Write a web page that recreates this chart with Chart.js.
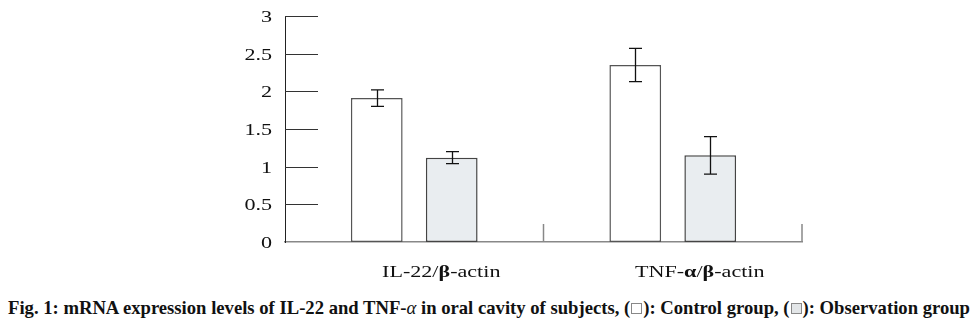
<!DOCTYPE html>
<html>
<head>
<meta charset="utf-8">
<script src="https://cdn.jsdelivr.net/npm/chart.js@4/dist/chart.umd.min.js"></script>
<style>
html, body { margin: 0; padding: 0; background: #fff; }
#wrap { position: relative; width: 978px; height: 290px; }
#caption { position: absolute; left: 8px; top: 297px; font: bold 18.65px "Liberation Serif", "Times New Roman", serif; white-space: nowrap; color: #111; }
.box { display: inline-block; width: 9px; height: 9px; border: 1px solid #888; vertical-align: middle; margin: 0 1px; position: relative; top: -1px; }
</style>
</head>
<body>
<div id="wrap"><canvas id="chart" width="978" height="290"></canvas></div>
<div id="caption">Fig. 1: mRNA expression levels of IL-22 and TNF-<i style="font-weight:normal">α</i> in oral cavity of subjects, (<span class="box"></span>): Control group, (<span class="box" style="background:#e3e6e8"></span>): Observation group</div>
<script>
// Data
const categories = ['IL-22/β-actin', 'TNF-α/β-actin'];
const controlValues = [1.91, 2.35];
const controlErrors = [0.11, 0.22];
const observationValues = [1.12, 1.15];
const observationErrors = [0.08, 0.25];
const yTicks = [0, 0.5, 1, 1.5, 2, 2.5, 3];

const serif = '"Liberation Serif", "Times New Roman", serif';
const stretch = 1.3; // the original figure's text is widened

// draw text pieces widened horizontally, align 'center' or 'right'
function drawWide(ctx, parts, x, y, align) {
    let total = 0;
    parts.forEach(p => { ctx.font = p.font; total += ctx.measureText(p.text).width; });
    ctx.save();
    ctx.translate(x, y);
    ctx.scale(stretch, 1);
    let px = align === 'right' ? -total : -total / 2;
    parts.forEach(p => {
        ctx.font = p.font;
        ctx.fillText(p.text, px, 0);
        px += ctx.measureText(p.text).width;
    });
    ctx.restore();
}

// Short tick marks, category separators, error bars and the text
const decorations = {
    id: 'decorations',
    afterDatasetsDraw(chart) {
        const ctx = chart.ctx;
        const x = chart.scales.x;
        const y = chart.scales.y;
        const area = chart.chartArea;
        ctx.save();

        // y tick marks going right from the axis
        ctx.strokeStyle = '#333';
        ctx.lineWidth = 1.2;
        yTicks.forEach(v => {
            if (v === 0) return;
            const py = Math.round(y.getPixelForValue(v)) + 0.5;
            ctx.beginPath();
            ctx.moveTo(area.left, py);
            ctx.lineTo(area.left + 33, py);
            ctx.stroke();
        });

        // separators between categories
        ctx.strokeStyle = '#888';
        ctx.lineWidth = 1.5;
        categories.forEach((c, i) => {
            const px = i < categories.length - 1
                ? (x.getPixelForValue(i) + x.getPixelForValue(i + 1)) / 2
                : area.right;
            ctx.beginPath();
            ctx.moveTo(px, area.bottom);
            ctx.lineTo(px, area.bottom - 18);
            ctx.stroke();
        });

        // error bars
        const errors = [controlErrors, observationErrors];
        ctx.strokeStyle = '#111';
        ctx.lineWidth = 1.3;
        chart.data.datasets.forEach((ds, di) => {
            chart.getDatasetMeta(di).data.forEach((bar, i) => {
                const v = ds.data[i];
                const top = y.getPixelForValue(v + errors[di][i]);
                const bot = y.getPixelForValue(v - errors[di][i]);
                const bx = Math.round(bar.x) + 0.5;
                ctx.beginPath();
                ctx.moveTo(bx, top);
                ctx.lineTo(bx, bot);
                ctx.moveTo(bx - 6.5, top);
                ctx.lineTo(bx + 6.5, top);
                ctx.moveTo(bx - 6.5, bot);
                ctx.lineTo(bx + 6.5, bot);
                ctx.stroke();
            });
        });

        ctx.fillStyle = '#111';
        ctx.textBaseline = 'alphabetic';

        // y tick labels
        yTicks.forEach(v => {
            drawWide(ctx, [{ text: String(v), font: '17px ' + serif }],
                area.left - 13, y.getPixelForValue(v) + 6, 'right');
        });

        // category labels, greek letters in bold
        categories.forEach((label, i) => {
            const parts = label.split(/([αβ])/).filter(s => s.length).map(s => ({
                text: s,
                font: (/[αβ]/.test(s) ? 'bold ' : '') + '17px ' + serif
            }));
            drawWide(ctx, parts, x.getPixelForValue(i) + 27, area.bottom + 35, 'center');
        });
        ctx.restore();
    }
};

new Chart(document.getElementById('chart'), {
    type: 'bar',
    data: {
        labels: categories,
        datasets: [{
            label: 'Control group',
            data: controlValues,
            backgroundColor: '#ffffff',
            borderColor: '#555555',
            borderWidth: 1.5,
            borderSkipped: false
        }, {
            label: 'Observation group',
            data: observationValues,
            backgroundColor: '#e9edf0',
            borderColor: '#444444',
            borderWidth: 1.5,
            borderSkipped: false
        }]
    },
    options: {
        responsive: false,
        animation: false,
        devicePixelRatio: 1,
        categoryPercentage: 0.58,
        barPercentage: 0.69,
        layout: { padding: { top: 16, right: 176, bottom: 0, left: 0 } },
        plugins: {
            legend: { display: false },
            tooltip: { enabled: false }
        },
        scales: {
            x: {
                ticks: { display: false },
                grid: { display: false, drawTicks: false },
                border: { color: '#888', width: 1.5 },
                afterFit: scale => { scale.height = 48; }
            },
            y: {
                min: 0,
                max: 3,
                afterBuildTicks: scale => { scale.ticks = yTicks.map(v => ({ value: v })); },
                ticks: { display: false },
                grid: { display: false, drawTicks: false },
                border: { color: '#222', width: 1 },
                afterFit: scale => { scale.width = 285; }
            }
        }
    },
    plugins: [decorations]
});
</script>
</body>
</html>
